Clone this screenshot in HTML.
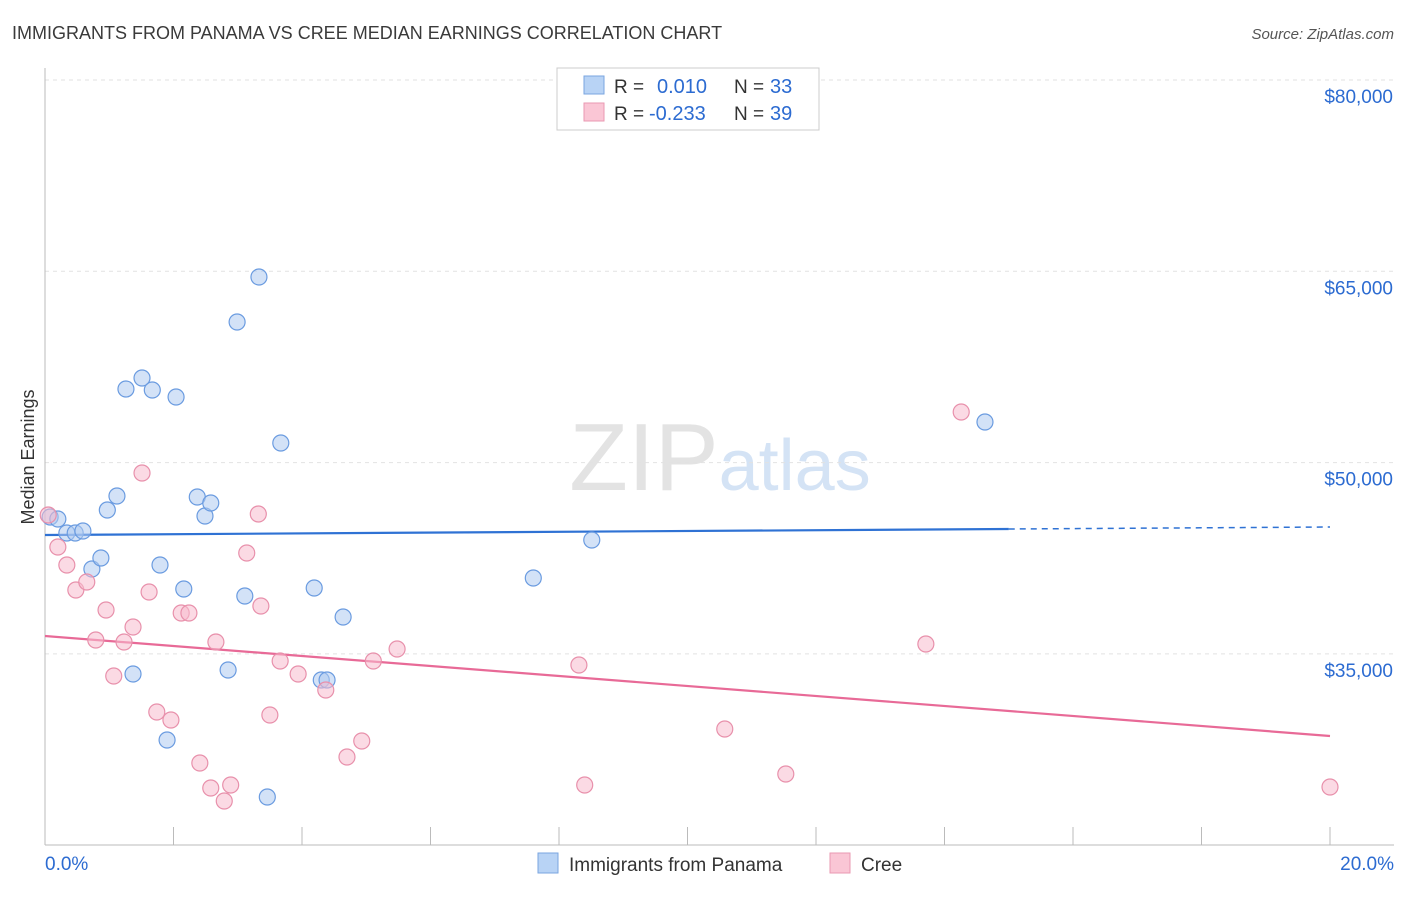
<!DOCTYPE html>
<html><head><meta charset="utf-8"><style>
body{margin:0;background:#fff;font-family:"Liberation Sans",sans-serif;}
svg text{font-family:"Liberation Sans",sans-serif;}
</style></head><body>
<svg id="chart" width="1406" height="892" xmlns="http://www.w3.org/2000/svg">
<text x="12" y="39" font-size="18" fill="#3a3a3a">IMMIGRANTS FROM PANAMA VS CREE MEDIAN EARNINGS CORRELATION CHART</text>
<text x="1394" y="39" font-size="15" fill="#555" font-style="italic" text-anchor="end">Source: ZipAtlas.com</text>
<text x="720" y="490" font-size="96" text-anchor="middle" fill="#e3e3e3" font-family="Liberation Serif"><tspan>ZIP</tspan><tspan fill="#d4e3f5" font-family="Liberation Sans" font-size="72">atlas</tspan></text>
<text transform="translate(34,457) rotate(-90)" font-size="18" fill="#333" text-anchor="middle">Median Earnings</text>
<g id="grid"></g><g id="axes"></g><g id="trends"></g><g id="points"></g>
<g>
<rect x="557" y="68" width="262" height="62" fill="#fff" stroke="#ccc"/>
<rect x="584" y="76" width="20" height="18" fill="#b8d3f5" stroke="#7aa6e0"/>
<text x="614" y="93" font-size="19" fill="#333">R =</text><text x="657" y="93" font-size="20" fill="#2c6bd1">0.010</text>
<text x="734" y="93" font-size="19" fill="#333">N =</text><text x="770" y="93" font-size="20" fill="#2c6bd1">33</text>
<rect x="584" y="103" width="20" height="18" fill="#fac6d5" stroke="#ea98b2"/>
<text x="614" y="120" font-size="19" fill="#333">R =</text><text x="649" y="120" font-size="20" fill="#2c6bd1">-0.233</text>
<text x="734" y="120" font-size="19" fill="#333">N =</text><text x="770" y="120" font-size="20" fill="#2c6bd1">39</text>
</g>
<g>
<rect x="538" y="853" width="20" height="20" fill="#b8d3f5" stroke="#7aa6e0"/>
<text x="569" y="871" font-size="19" fill="#333">Immigrants from Panama</text>
<rect x="830" y="853" width="20" height="20" fill="#fac6d5" stroke="#ea98b2"/>
<text x="861" y="871" font-size="19" fill="#333">Cree</text>
</g>
</svg>
<script>
const yTicks=[35000,50000,65000,80000];
const yTickLabels=["$35,000","$50,000","$65,000","$80,000"];
const xTickLabels=["0.0%","20.0%"];
const blueX=[0.08,0.20,0.34,0.47,0.59,0.73,0.87,0.97,1.12,1.26,1.37,1.51,1.67,1.79,1.90,2.04,2.16,2.37,2.49,2.58,2.85,2.99,3.11,3.33,3.46,3.67,4.19,4.30,4.39,4.64,7.60,8.51,14.63];
const blueY=[45735,45578,44480,44480,44636,41657,42520,46284,47382,55771,33424,56634,55693,41971,28249,55144,40089,47303,45814,46833,33738,61025,39540,64553,23780,51537,40167,32954,32954,37894,40951,43931,53184];
const pinkX=[0.05,0.20,0.34,0.48,0.65,0.79,0.95,1.07,1.23,1.37,1.51,1.62,1.74,1.96,2.12,2.24,2.41,2.58,2.66,2.79,2.89,3.14,3.32,3.36,3.50,3.66,3.94,4.37,4.70,4.93,5.11,5.48,8.31,8.40,10.58,11.53,13.71,14.26,20.0];
const pinkY=[45892,43382,41971,40011,40638,36090,38443,33268,35934,37110,49185,39854,30445,29818,38207,38207,26446,24485,35934,23467,24721,42912,45970,38756,30210,34444,33424,32170,26916,28171,34444,35385,34130,24721,29111,25583,35777,53968,24564];
const blueTrend=[44323,44950];
const pinkTrend=[36403,28562];
const NS="http://www.w3.org/2000/svg";
const sx=v=>45+v/20*1285;
const sy=v=>80+(80000-v)/15000*191.3;
function mk(tag,attrs,parent){const e=document.createElementNS(NS,tag);for(const k in attrs)e.setAttribute(k,attrs[k]);document.getElementById(parent).appendChild(e);return e;}
yTicks.forEach((t,i)=>{
  const l=mk('line',{x1:45,x2:1394,y1:sy(t),y2:sy(t),stroke:'#e2e2e2','stroke-dasharray':'4,4'},'grid');
  
  
  const tx=mk('text',{x:1393,y:sy(t)+23,'font-size':19,fill:'#2c6bd1','text-anchor':'end'},'grid');
  tx.textContent=yTickLabels[i];
  
  
});
const ax=mk('line',{x1:45,x2:45,y1:68,y2:845,stroke:'#bbb'},'axes');


const bx=mk('line',{x1:45,x2:1394,y1:845,y2:845,stroke:'#bbb'},'axes');


for(let i=0;i<=10;i++){const t=mk('line',{x1:sx(i*2),x2:sx(i*2),y1:827,y2:845,stroke:'#bbb'},'axes');
  
  }
[[0,'start',45],[20,'end',1394]].forEach((d,i)=>{const t=mk('text',{x:d[2],y:870,'font-size':19,fill:'#2c6bd1','text-anchor':d[1]},'axes');t.textContent=xTickLabels[i];
  
  });
function trend(tr,color,solidEnd,name){
  const y=x=>tr[0]+(tr[1]-tr[0])*x/20;
  const l=mk('line',{x1:sx(0),y1:sy(y(0)),x2:sx(solidEnd),y2:sy(y(solidEnd)),stroke:color,'stroke-width':2.2},'trends');
  
  
  if(solidEnd<20){const d=mk('line',{x1:sx(solidEnd),y1:sy(y(solidEnd)),x2:sx(20),y2:sy(y(20)),stroke:color,'stroke-width':1.5,'stroke-dasharray':'6,5'},'trends');
  
  }
}
trend(blueTrend,'#2f72d4',15.0,'panama-trend-line');
trend(pinkTrend,'#e86a97',20,'cree-trend-line');
function pts(X,Y,fill,stroke,name){X.forEach((x,i)=>{const c=mk('circle',{cx:sx(x),cy:sy(Y[i]),r:8,fill:fill,'fill-opacity':0.55,stroke:stroke,'stroke-width':1.2},'points');
  
  });}
pts(blueX,blueY,'#aecbf0','#6a9be0','panama-point');
pts(pinkX,pinkY,'#f7bccd','#e890ab','cree-point');
</script>
</body></html>
